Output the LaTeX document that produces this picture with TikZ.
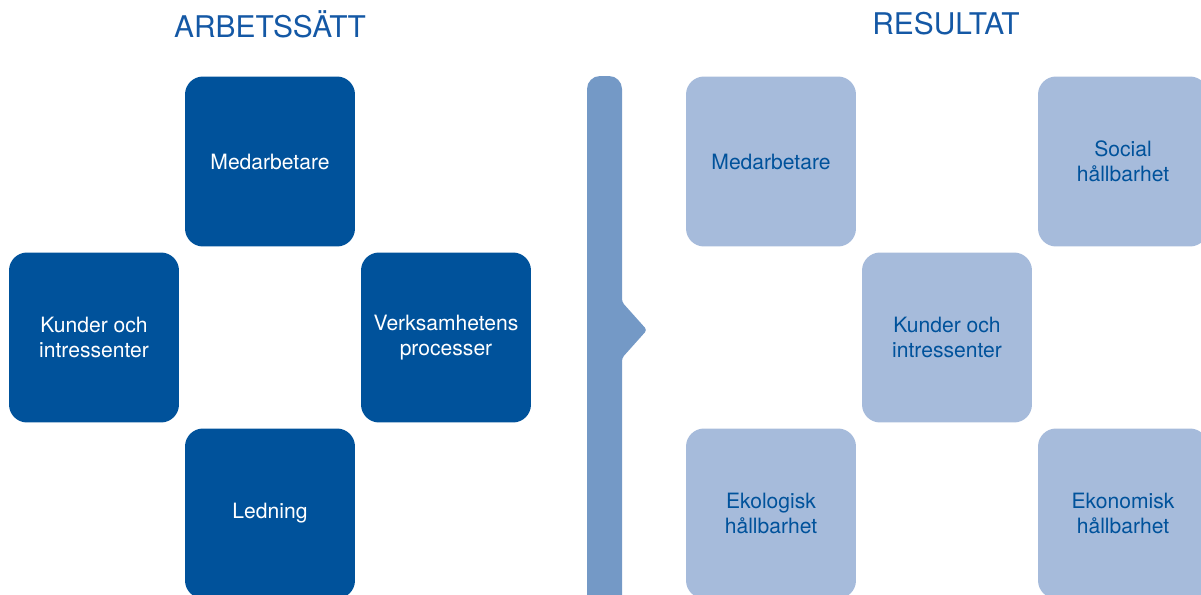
\documentclass[tikz,border=0pt]{standalone}
\usepackage{fontspec}
\setmainfont{TeX Gyre Heros}
\definecolor{darkblue}{RGB}{0,82,155}
\definecolor{lightblue}{RGB}{166,187,219}
\definecolor{barblue}{RGB}{116,153,198}
\definecolor{titleblue}{RGB}{20,88,165}
\tikzset{
  workbox/.style={fill=darkblue, text=white, rounded corners=0.36cm, minimum width=3.4cm, minimum height=3.4cm, align=center, font=\fontsize{12}{14.4}\selectfont},
  resultbox/.style={fill=lightblue, text=darkblue, rounded corners=0.36cm, minimum width=3.4cm, minimum height=3.4cm, align=center, font=\fontsize{12}{14.4}\selectfont},
  heading/.style={text=titleblue, font=\fontsize{17}{20}\selectfont}
}
\begin{document}
\begin{tikzpicture}[x=0.02cm,y=-0.02cm]
\useasboundingbox (0,0) rectangle (1201,595);
\clip (0,0) rectangle (1201,595);
\node[heading] (arbete) at (270,24) {ARBETSSÄTT};
\node[heading] (resultat) at (946,24) {RESULTAT};

\node[workbox] (medarb) at (270,161.5) {Medarbetare};
\node[workbox] (kunder) at (94,337.5) {Kunder och\\intressenter};
\node[workbox] (process) at (446,337.5) {Verksamhetens\\processer};
\node[workbox] (ledning) at (270,513.5) {Ledning};

\fill[barblue] (587,640) [rounded corners=0.26cm] -- (587,76) -- (622,76) [rounded corners=0.06cm] -- (622,302) -- (647,330) -- (622,358) [sharp corners] -- (622,640) -- cycle;

\node[resultbox] (rmedarb) at (771,161.5) {Medarbetare};
\node[resultbox] (social) at (1123,161.5) {Social\\hållbarhet};
\node[resultbox] (rkunder) at (947,337.5) {Kunder och\\intressenter};
\node[resultbox] (ekologisk) at (771,513.5) {Ekologisk\\hållbarhet};
\node[resultbox] (ekonomisk) at (1123,513.5) {Ekonomisk\\hållbarhet};
\end{tikzpicture}
\end{document}
